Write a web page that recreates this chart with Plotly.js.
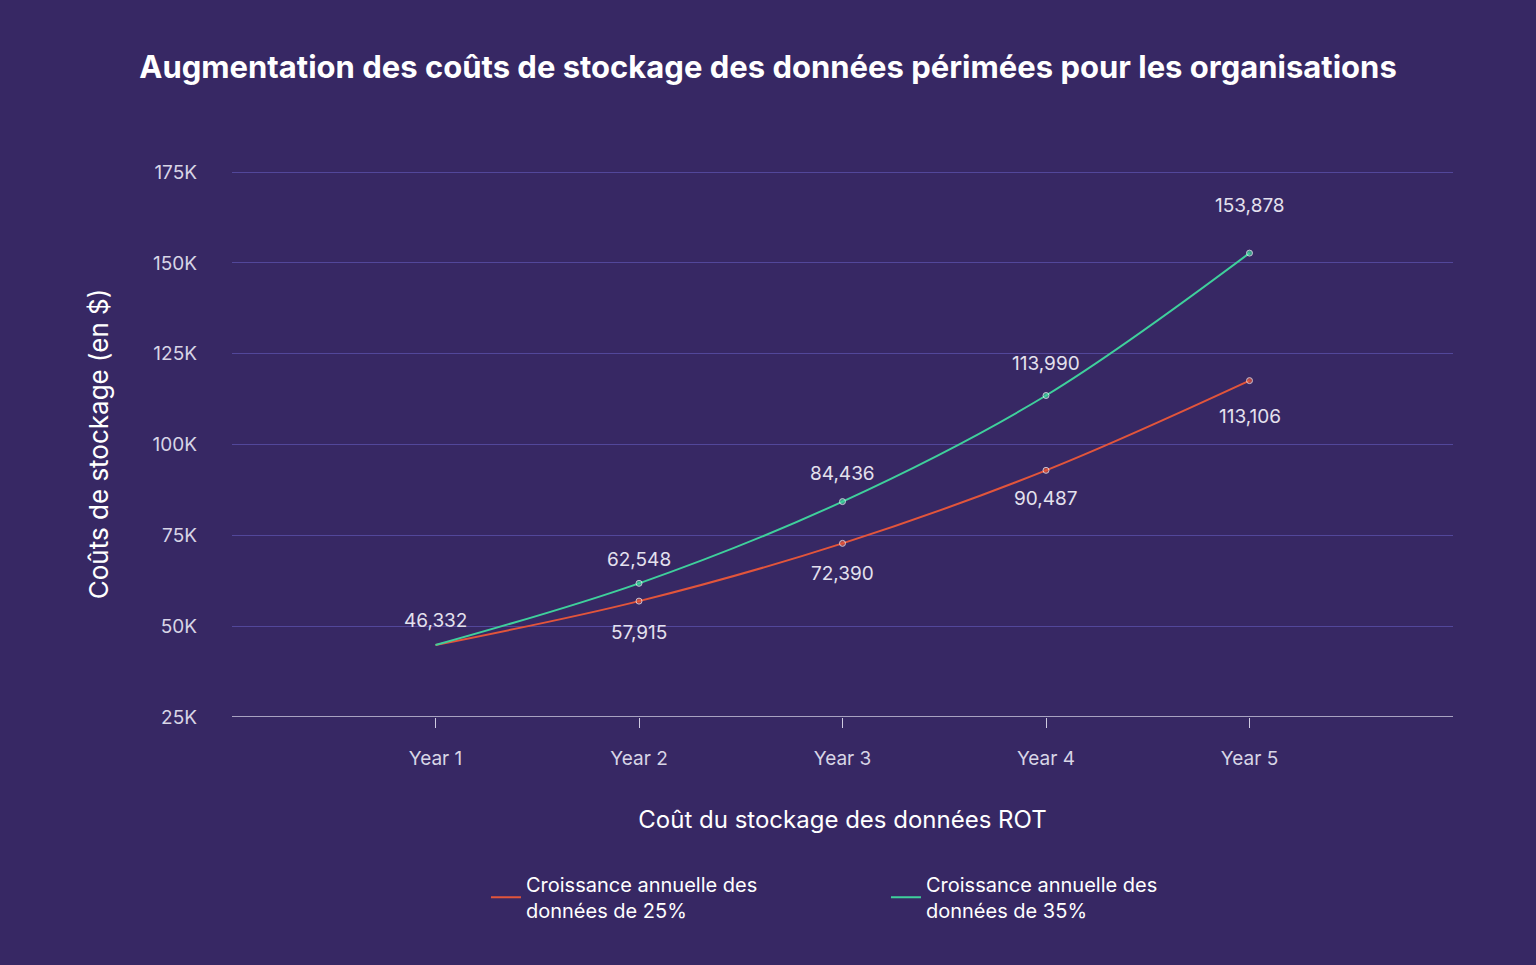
<!DOCTYPE html>
<html>
<head>
<meta charset="utf-8">
<script src="https://cdn.plot.ly/plotly-3.0.1.min.js"></script>
<style>html,body{margin:0;padding:0;background:#372864;}#chart{width:1536px;height:965px;}</style>
</head>
<body>
<div id="chart"></div>
<script>
const years = [1, 2, 3, 4, 5];
const yearLabels = ["Year 1", "Year 2", "Year 3", "Year 4", "Year 5"];
// plotted positions as drawn in the picture
const red25 = [44800, 56900, 72800, 92900, 117600];
const green35 = [44800, 61800, 84300, 113500, 152700];
// printed data labels
const red25Labels = ["", "57,915", "72,390", "90,487", "113,106"];
const green35Labels = ["46,332", "62,548", "84,436", "113,990", "153,878"];
const yTicks = [25000, 50000, 75000, 100000, 125000, 150000, 175000];
const yTickText = ["25K", "50K", "75K", "100K", "125K", "150K", "175K"];

const FONT = "Inter, 'Open Sans', sans-serif";
const RED = "#e2553b";
const GREEN = "#3fd09c";
const LABEL_COLOR = "#e4e1ee";
const redShift = [0, -31, -30, -28, -36];
const greenShift = [25, 24, 28, 32, 48];

const NAME25 = "Croissance annuelle des<br>données de 25%";
const NAME35 = "Croissance annuelle des<br>données de 35%";

const traces = [
  {
    type: "scatter", mode: "lines+markers", x: years, y: red25, showlegend: false,
    line: {color: RED, width: 2, shape: "spline"},
    marker: {color: RED, size: [0, 6, 6, 6, 6]},
  },
  {
    type: "scatter", mode: "lines+markers", x: years, y: green35, showlegend: false,
    line: {color: GREEN, width: 2, shape: "spline"},
    marker: {color: GREEN, size: [0, 6, 6, 6, 6]},
  },
  {type: "scatter", mode: "lines", x: [null], y: [null], name: NAME25, line: {color: RED, width: 2}},
  {type: "scatter", mode: "lines", x: [null], y: [null], name: NAME35, line: {color: GREEN, width: 2}},
];

const annotations = [];
years.forEach((yr, i) => {
  if (red25Labels[i]) annotations.push({x: yr, y: red25[i], text: red25Labels[i], showarrow: false,
    yshift: redShift[i], font: {size: 19, color: LABEL_COLOR, family: FONT}});
  if (green35Labels[i]) annotations.push({x: yr, y: green35[i], text: green35Labels[i], showarrow: false,
    yshift: greenShift[i], font: {size: 19, color: LABEL_COLOR, family: FONT}});
});

const layout = {
  width: 1536, height: 965,
  paper_bgcolor: "#372864", plot_bgcolor: "#372864",
  font: {family: FONT, color: "#ffffff"},
  margin: {l: 232, r: 83, t: 171, b: 248},
  title: {text: "<b>Augmentation des coûts de stockage des données périmées pour les organisations</b>",
    x: 0.5, xanchor: "center", y: 0.93, yanchor: "middle",
    font: {size: 31, color: "#ffffff", family: FONT}},
  showlegend: true,
  legend: {orientation: "h", x: 0.208, xanchor: "left", y: -0.33, yanchor: "middle",
    entrywidth: 355, font: {size: 20, color: "#ffffff", family: FONT}, bgcolor: "rgba(0,0,0,0)"},
  annotations,
  xaxis: {
    range: [0, 6], tickvals: years, ticktext: yearLabels,
    showgrid: false, zeroline: false, showline: false,
    ticks: "outside", ticklen: 10, tickcolor: "#cfcbe0", tickwidth: 1,
    ticklabelstandoff: 14,
    tickfont: {size: 19, color: "#d8d5e6"},
    title: {text: "Coût du stockage des données ROT", font: {size: 24, color: "#ffffff"}, standoff: 42},
  },
  yaxis: {
    range: [25000, 175300], tickvals: yTicks, ticktext: yTickText,
    gridcolor: "#52479a", gridwidth: 1, zeroline: false, showline: false,
    ticks: "", ticklabelstandoff: 34,
    tickfont: {size: 19, color: "#d8d5e6"},
    title: {text: "Coûts de stockage (en $)", font: {size: 26, color: "#ffffff"}, standoff: 36},
  },
  shapes: [{type: "line", xref: "paper", x0: 0, x1: 1, yref: "y", y0: 25000, y1: 25000,
    line: {color: "#cfcbe0", width: 1.5}}],
};

Plotly.newPlot("chart", traces, layout, {displayModeBar: false, responsive: false});
</script>
</body>
</html>
